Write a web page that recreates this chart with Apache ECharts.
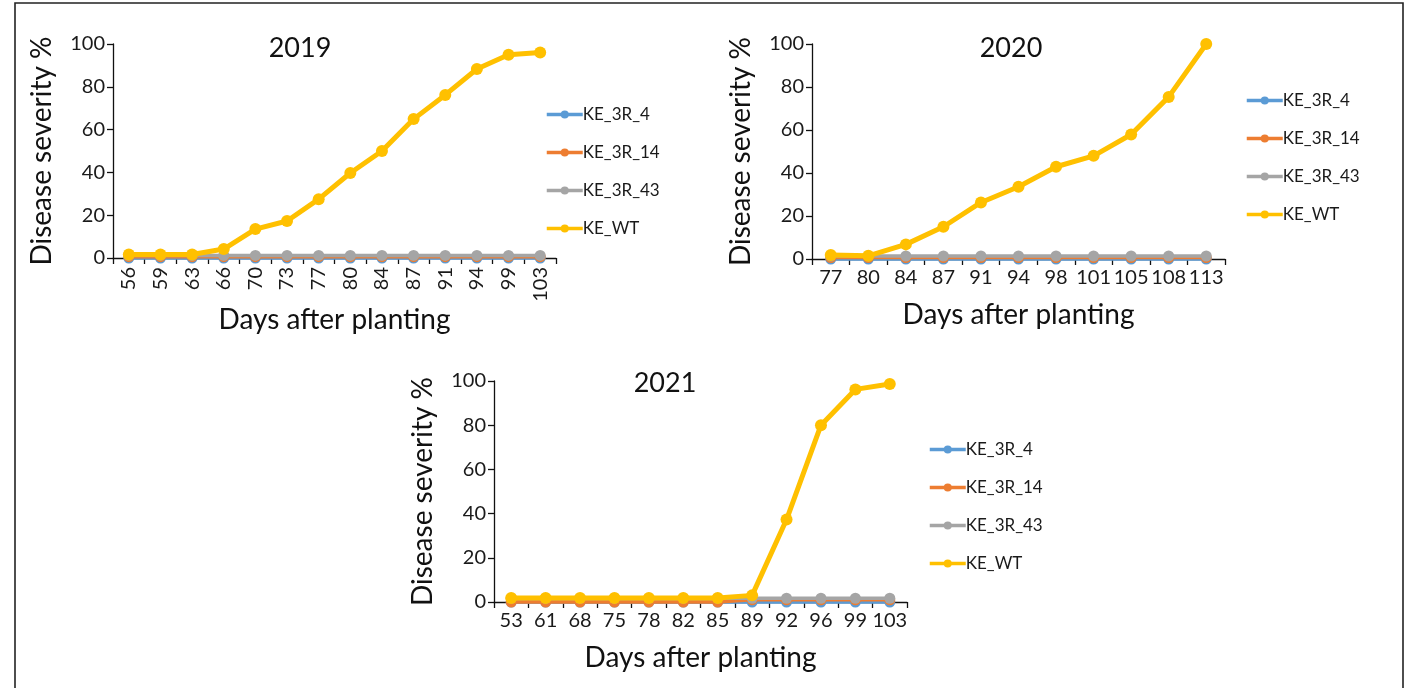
<!DOCTYPE html>
<html>
<head>
<meta charset="utf-8">
<script src="https://cdn.jsdelivr.net/npm/echarts@6/dist/echarts.min.js"></script>
<style>
html,body{margin:0;padding:0;background:#fff;}
#chart{width:1411px;height:688px;}
</style>
</head>
<body>
<div id="chart"></div>
<script>
// ---- Data ----
const seriesNames = ['KE_3R_4', 'KE_3R_14', 'KE_3R_43', 'KE_WT'];
const years = ['2019', '2020', '2021'];

const days2019 = ['56','59','63','66','70','73','77','80','84','87','91','94','99','103'];
const ke3r4_2019  = [0,0,0,0,0,0,0,0,0,0,0,0,0,0];
const ke3r14_2019 = [0.6,0.6,0.6,0.6,0.6,0.6,0.6,0.6,0.6,0.6,0.6,0.6,0.6,0.6];
const ke3r43_2019 = [1.2,1.2,1.2,1.2,1.2,1.2,1.2,1.2,1.2,1.2,1.2,1.2,1.2,1.2];
const kewt_2019   = [1.6,1.6,1.6,4.2,13.5,17.3,27.5,39.7,50,64.9,76.2,88.3,95,96];

const days2020 = ['77','80','84','87','91','94','98','101','105','108','113'];
const ke3r4_2020  = [0,0,0,0,0,0,0,0,0,0,0];
const ke3r14_2020 = [0.7,0.7,0.7,0.7,0.7,0.7,0.7,0.7,0.7,0.7,0.7];
const ke3r43_2020 = [1.4,1.4,1.4,1.4,1.4,1.4,1.4,1.4,1.4,1.4,1.4];
const kewt_2020   = [1.9,1.5,6.8,15,26.3,33.6,42.9,48,57.9,75.4,100];

const days2021 = ['53','61','68','75','78','82','85','89','92','96','99','103'];
const ke3r4_2021  = [0,0,0,0,0,0,0,0,0,0,0,0];
const ke3r14_2021 = [0,0,0,0,0,0,0,1,1,1,1,1];
const ke3r43_2021 = [1.7,1.7,1.7,1.7,1.7,1.7,1.7,1.7,1.7,1.7,1.7,1.7];
const kewt_2021   = [1.8,1.8,1.8,1.8,1.8,1.8,1.8,3,37.3,80,96.2,98.6];

const yTicks = [0, 20, 40, 60, 80, 100];

// ---- Styles ----
const FONT = 'Lato';
const colors = ['#5B9BD5', '#ED7D31', '#A5A5A5', '#FFC000'];
const panels = [
  {cats: days2019, data: [ke3r4_2019, ke3r14_2019, ke3r43_2019, kewt_2019],
   grid: {left: 113, top: 44, width: 443, height: 214}, rotate: 90,
   titleX: 295, titleY: 30, legendX: 540, legendY: 101, xNameGap: 46, yNameGap: 57},
  {cats: days2020, data: [ke3r4_2020, ke3r14_2020, ke3r43_2020, kewt_2020],
   grid: {left: 812, top: 44, width: 413, height: 215}, rotate: 0,
   titleX: 1006, titleY: 30, legendX: 1240, legendY: 87, xNameGap: 42, yNameGap: 57},
  {cats: days2021, data: [ke3r4_2021, ke3r14_2021, ke3r43_2021, kewt_2021],
   grid: {left: 494, top: 381, width: 413, height: 221}, rotate: 0,
   titleX: 660, titleY: 365, legendX: 923, legendY: 436, xNameGap: 42, yNameGap: 57}
];

const option = {
  animation: false,
  backgroundColor: '#fff',
  textStyle: {fontFamily: FONT},
  title: [], grid: [], xAxis: [], yAxis: [], series: [], legend: [],
  graphic: [{
    type: 'rect', shape: {x: 15, y: 3, width: 1388, height: 700},
    style: {fill: 'none', stroke: '#222', lineWidth: 1.6}, z: 100
  }]
};

panels.forEach((p, i) => {
  option.title.push({
    text: years[i], left: p.titleX, top: p.titleY, textAlign: 'center',
    textStyle: {fontFamily: FONT, fontSize: 27, fontWeight: 'normal', color: '#111'}
  });
  option.grid.push(Object.assign({containLabel: false}, p.grid));
  option.xAxis.push({
    type: 'category', gridIndex: i, data: p.cats, boundaryGap: true,
    name: 'Days after planting', nameLocation: 'middle', nameGap: p.xNameGap,
    nameTextStyle: {fontFamily: FONT, fontSize: 28, color: '#111'},
    axisLine: {lineStyle: {color: '#111', width: 1.3}},
    axisTick: {show: true, length: 6, lineStyle: {color: '#111', width: 1.3}},
    axisLabel: {rotate: p.rotate, fontFamily: FONT, fontSize: 20, color: '#1a1a1a', margin: 9, interval: 0}
  });
  option.yAxis.push({
    type: 'value', gridIndex: i, min: 0, max: 100, interval: 20,
    name: 'Disease severity %', nameLocation: 'middle', nameGap: p.yNameGap, nameRotate: 90,
    nameTextStyle: {fontFamily: FONT, fontSize: 28, color: '#111'},
    axisLine: {show: true, lineStyle: {color: '#111', width: 1.3}},
    axisTick: {show: true, length: 6, lineStyle: {color: '#111', width: 1.3}},
    splitLine: {show: false},
    axisLabel: {fontFamily: FONT, fontSize: 20, color: '#1a1a1a', margin: 8}
  });
  seriesNames.forEach((name, k) => {
    const wt = k === 3;
    option.series.push({
      type: 'line', name: name, xAxisIndex: i, yAxisIndex: i,
      data: p.data[k], symbol: 'circle', symbolSize: wt ? 12 : 11,
      clip: false,
      lineStyle: {color: colors[k], width: wt ? 5 : 3.5},
      itemStyle: {color: colors[k]}, z: 2 + k
    });
  });
  option.legend.push({
    orient: 'vertical', left: p.legendX, top: p.legendY, itemGap: 21,
    itemWidth: 36, itemHeight: 10,
    lineStyle: {width: 3.5},
    textStyle: {fontFamily: FONT, fontSize: 17, color: '#1a1a1a', padding: [0, 0, 0, -5]},
    data: seriesNames.map(n => ({name: n})),
    selectedMode: false
  });
});

const chart = echarts.init(document.getElementById('chart'), null, {renderer: 'canvas'});
chart.setOption(option);
</script>
</body>
</html>
